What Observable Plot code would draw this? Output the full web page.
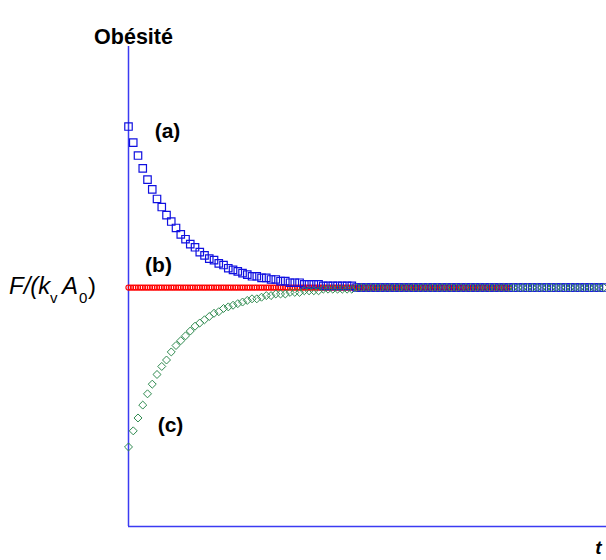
<!DOCTYPE html>
<html>
<head>
<meta charset="utf-8">
<script src="https://cdn.jsdelivr.net/npm/d3@7"></script>
<script src="https://cdn.jsdelivr.net/npm/@observablehq/plot@0.6"></script>
<style>
  html, body { margin: 0; padding: 0; background: #fff; }
</style>
</head>
<body>
<div id="chart"></div>
<script>
// Series (a): decreasing towards the equilibrium level (one value per time step)
const seriesA = [
  2.00,1.90,1.82,1.74,1.67,1.61,1.55,1.50,1.45,1.41,
  1.37,1.33,1.30,1.27,1.25,1.22,1.20,1.18,1.17,1.15,
  1.14,1.12,1.11,1.10,1.09,1.08,1.07,1.07,1.06,1.06,
  1.05,1.05,1.04,1.04,1.03,1.03,1.03,1.02,1.02,1.02,
  1.02,1.01,1.01,1.01,1.01,1.01,1.01,1.01,1.00,1.00,
  1.00,1.00,1.00,1.00,1.00,1.00,1.00,1.00,1.00,1.00,
  1.00,1.00,1.00,1.00,1.00,1.00,1.00,1.00,1.00,1.00,
  1.00,1.00,1.00,1.00,1.00,1.00,1.00,1.00,1.00,1.00,
  1.00,1.00,1.00,1.00,1.00,1.00,1.00,1.00,1.00,1.00,
  1.00,1.00,1.00,1.00,1.00,1.00,1.00,1.00,1.00,1.00,
  1.00
];
// Series (c): increasing towards the equilibrium level
const seriesC = [
  0.01,0.11,0.19,0.27,0.34,0.40,0.46,0.51,0.55,0.60,
  0.64,0.67,0.70,0.73,0.76,0.78,0.80,0.82,0.84,0.85,
  0.87,0.88,0.89,0.90,0.91,0.92,0.93,0.93,0.94,0.95,
  0.95,0.96,0.96,0.96,0.97,0.97,0.97,0.98,0.98,0.98,
  0.98,0.99,0.99,0.99,0.99,0.99,0.99,0.99,1.00,1.00,
  1.00,1.00,1.00,1.00,1.00,1.00,1.00,1.00,1.00,1.00,
  1.00,1.00,1.00,1.00,1.00,1.00,1.00,1.00,1.00,1.00,
  1.00,1.00,1.00,1.00,1.00,1.00,1.00,1.00,1.00,1.00,
  1.00,1.00,1.00,1.00,1.00,1.00,1.00,1.00,1.00,1.00,
  1.00,1.00,1.00,1.00,1.00,1.00,1.00,1.00,1.00,1.00,
  1.00
];
// Series (b): stays at the equilibrium level F/(kv A0), sampled every half step up to t = 80
const levelB = 1;
const tB = d3.range(0, 80.5, 0.5);
const seriesLabels = ["(a)", "(b)", "(c)"];
const yTitle = "Obésité";
const xTitle = "t";

const dataA = seriesA.map((v, i) => ({t: i, v}));
const dataC = seriesC.map((v, i) => ({t: i, v}));
const dataB = tB.map(t => ({t, v: levelB}));

const font = "'Liberation Sans', Arial, Helvetica, sans-serif";
const axisColor = "#3b3bf2";

const plot = Plot.plot({
  width: 606,
  height: 560,
  marginLeft: 128,
  marginRight: 0,
  marginTop: 46,
  marginBottom: 34,
  style: {fontFamily: font, background: "#fff", overflow: "visible"},
  x: {domain: [0, 100.6], axis: null},
  y: {domain: [-0.484, 2.497], axis: null},
  marks: [
    Plot.ruleX([0], {stroke: axisColor, strokeWidth: 1.5}),
    Plot.ruleY([-0.484], {stroke: axisColor, strokeWidth: 1.5}),
    Plot.dot(dataB, {x: "t", y: "v", r: 2.6, stroke: "#ff0000", strokeWidth: 1.1, fill: "none"}),
    Plot.dot(dataA, {x: "t", y: "v", symbol: "square", r: 4.2, stroke: "#1010e0", strokeWidth: 1.2, fill: "none"}),
    Plot.dot(dataC, {x: "t", y: "v", symbol: "diamond2", r: 3.6, stroke: "#2f8a4f", strokeWidth: 1, fill: "none"}),
    Plot.text([{t: 0, v: seriesA[0], s: seriesLabels[0]}], {x: "t", y: "v", text: "s", dx: 39, dy: 5, fontSize: 21, fontWeight: "bold", fill: "#000"}),
    Plot.text([{t: 0, v: levelB, s: seriesLabels[1]}], {x: "t", y: "v", text: "s", dx: 30, dy: -22, fontSize: 21, fontWeight: "bold", fill: "#000"}),
    Plot.text([{t: 0, v: seriesC[0], s: seriesLabels[2]}], {x: "t", y: "v", text: "s", dx: 42, dy: -22, fontSize: 21, fontWeight: "bold", fill: "#000"}),
    Plot.text([yTitle], {frameAnchor: "top-left", textAnchor: "middle", dx: 5, dy: -18, fontSize: 21.5, fontWeight: "bold", fill: "#000"}),
    Plot.text([xTitle], {frameAnchor: "bottom-right", textAnchor: "middle", dx: -8, dy: 27, fontSize: 19, fontWeight: "bold", fontStyle: "italic", fill: "#000"})
  ]
});

// Y quantity label F/(k_v A_0) with subscripts
const svg = d3.select(plot);
const lab = svg.append("text")
  .attr("font-family", font)
  .attr("text-anchor", "start")
  .attr("fill", "#000")
  .attr("y", 294);
lab.append("tspan").attr("x", 9).attr("font-size", 24).attr("font-style", "italic").text("F/(k");
lab.append("tspan").attr("x", 50).attr("y", 303).attr("font-size", 15).text("v");
lab.append("tspan").attr("x", 62).attr("y", 294).attr("font-size", 24).attr("font-style", "italic").text("A");
lab.append("tspan").attr("x", 79).attr("y", 303).attr("font-size", 15).text("0");
lab.append("tspan").attr("x", 88).attr("y", 294).attr("font-size", 24).text(")");

document.getElementById("chart").appendChild(plot);
</script>
</body>
</html>
